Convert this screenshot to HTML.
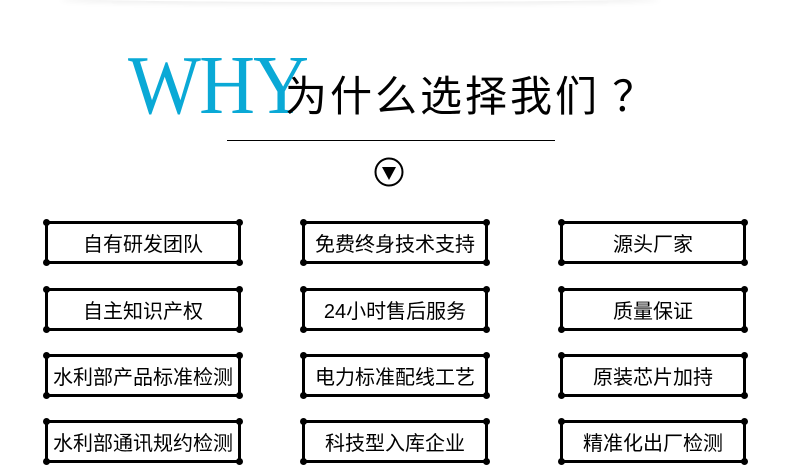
<!DOCTYPE html>
<html><head><meta charset="utf-8"><style>
body{margin:0;width:790px;height:469px;background:#fff;position:relative;overflow:hidden;font-family:"Liberation Sans","Noto Sans CJK SC",sans-serif}
.why{position:absolute;left:128px;top:44px;font-family:"Liberation Serif",serif;font-size:84px;color:#0aa9d6;line-height:84px;letter-spacing:-2px;transform:scaleX(0.92);transform-origin:left}
.t{position:absolute;left:285px;top:68px;font-size:42px;line-height:52px;color:#000;letter-spacing:3px;font-family:"Noto Sans CJK SC",sans-serif;font-weight:400}
.line{position:absolute;left:227px;top:140px;width:328px;height:1px;background:#000}
.b{position:absolute;border:3px solid #000;box-sizing:border-box;display:flex;align-items:center;justify-content:center;font-size:20px;color:#000}
.b i{position:absolute;width:7px;height:7px;border-radius:50%;background:#000}
</style></head><body>
<div style="position:absolute;left:60px;top:-6px;width:600px;height:8px;border-radius:50%;box-shadow:0 2px 6px rgba(0,0,0,.08)"></div>
<div class="why">WHY</div>
<div class="t">为什么选择我们 ？</div>
<div class="line"></div>
<svg style="position:absolute;left:374px;top:157px" width="30" height="30"><circle cx="15" cy="15" r="13.5" fill="none" stroke="#000" stroke-width="2"/><path d="M8 10 L22 10 L15 23 Z" fill="#000"/></svg>
<div id="g"></div>
<script>
var cols=[[45,241],[302,488],[560,746]],rows=[[221,264],[288,331],[354,397],[420,463]];
var t=[["自有研发团队","免费终身技术支持","源头厂家"],["自主知识产权","24小时售后服务","质量保证"],["水利部产品标准检测","电力标准配线工艺","原装芯片加持"],["水利部通讯规约检测","科技型入库企业","精准化出厂检测"]];
var h="";
for(var r=0;r<4;r++)for(var c=0;c<3;c++){var x=cols[c],y=rows[r];
h+='<div class="b" style="left:'+x[0]+'px;top:'+y[0]+'px;width:'+(x[1]-x[0])+'px;height:'+(y[1]-y[0])+'px">'+t[r][c]+'<i style="left:-5px;top:-5px"></i><i style="right:-5px;top:-5px"></i><i style="left:-5px;bottom:-5px"></i><i style="right:-5px;bottom:-5px"></i></div>';}
document.getElementById("g").innerHTML=h;
</script>
</body></html>
